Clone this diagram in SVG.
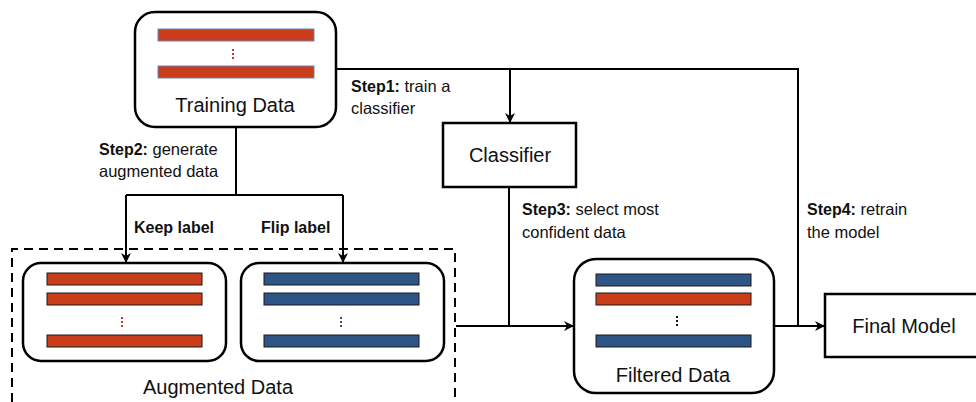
<svg xmlns="http://www.w3.org/2000/svg" width="976" height="402" viewBox="0 0 976 402">
  <style>
    .box { fill: #fff; stroke: #000; stroke-width: 2.5; }
    .line { fill: none; stroke: #000; stroke-width: 2; }
    .dash { fill: none; stroke: #000; stroke-width: 2; stroke-dasharray: 9 6; }
    .red { fill: #C93D1B; stroke: #1a1a1a; stroke-width: 1; }
    .redt { fill: #C93D1B; stroke: #6d86b8; stroke-width: 1; }
    .blue { fill: #2F5486; stroke: #1a1a1a; stroke-width: 1; }
    .title { font-family: "Liberation Sans", Arial, sans-serif; font-size: 20px; fill: #111; text-anchor: middle; }
    .lbl { font-family: "Liberation Sans", Arial, sans-serif; font-size: 16.5px; fill: #111; }
    .b { font-weight: bold; font-size: 16px; }
  </style>
  <defs>
    <marker id="arrow" viewBox="0 0 10 10" refX="9" refY="5" markerWidth="10" markerHeight="10" markerUnits="userSpaceOnUse" orient="auto">
      <path d="M0,0 L10,5 L0,10 L3,5 Z" fill="#000"/>
    </marker>
  </defs>

  <!-- connectors -->
  <g id="connectors">
    <!-- step 1: training data to classifier and on to the final model -->
    <path class="line" d="M336,69 H798 V326"/>
    <path class="line" d="M510,69 V122" marker-end="url(#arrow)"/>
    <!-- step 2: split into kept / flipped labels -->
    <path class="line" d="M236,127 V195"/>
    <path class="line" d="M126,195 H343"/>
    <path class="line" d="M126,195 V262" marker-end="url(#arrow)"/>
    <path class="line" d="M343,195 V262" marker-end="url(#arrow)"/>
    <!-- step 3: augmented data through classifier to filtered data -->
    <path class="line" d="M509,187 V326"/>
    <path class="line" d="M456,326 H573" marker-end="url(#arrow)"/>
    <!-- step 4: filtered data to final model -->
    <path class="line" d="M775,326 H824" marker-end="url(#arrow)"/>
  </g>

  <!-- Training Data -->
  <g id="training-data">
    <rect class="box" x="135" y="12" width="201" height="115" rx="20"/>
    <rect class="redt" x="158" y="29" width="156" height="12"/>
    <rect x="232" y="49" width="2" height="2" fill="#C93D1B"/>
    <rect x="232" y="53" width="2" height="2" fill="#C93D1B"/>
    <rect x="232" y="57" width="2" height="2" fill="#C93D1B"/>
    <rect class="redt" x="158" y="66" width="156" height="12"/>
    <text class="title" x="235" y="112">Training Data</text>
  </g>

  <!-- Classifier -->
  <g id="classifier">
    <rect class="box" x="443" y="123" width="133" height="64"/>
    <text class="title" x="510" y="162">Classifier</text>
  </g>

  <!-- Augmented Data group -->
  <g id="augmented-data">
    <path class="dash" d="M12,402 V249 H455 V402"/>
    <text class="title" x="218" y="394">Augmented Data</text>
  </g>

  <g id="keep-label-data">
    <rect class="box" x="23" y="263" width="203" height="98" rx="18"/>
    <rect class="red" x="47" y="273" width="155" height="12"/>
    <rect class="red" x="47" y="293" width="155" height="12"/>
    <rect x="121" y="317" width="2" height="2" fill="#C93D1B"/>
    <rect x="121" y="321" width="2" height="2" fill="#C93D1B"/>
    <rect x="121" y="325" width="2" height="2" fill="#C93D1B"/>
    <rect class="red" x="47" y="335" width="155" height="12"/>
  </g>

  <g id="flip-label-data">
    <rect class="box" x="241" y="263" width="203" height="98" rx="18"/>
    <rect class="blue" x="264" y="273" width="155" height="12"/>
    <rect class="blue" x="264" y="293" width="155" height="12"/>
    <rect x="340" y="317" width="2" height="2" fill="#2F5486"/>
    <rect x="340" y="321" width="2" height="2" fill="#2F5486"/>
    <rect x="340" y="325" width="2" height="2" fill="#2F5486"/>
    <rect class="blue" x="264" y="335" width="155" height="12"/>
  </g>

  <!-- Filtered Data -->
  <g id="filtered-data">
    <rect class="box" x="574" y="259" width="200" height="134" rx="22"/>
    <rect class="blue" x="596" y="274" width="155" height="12"/>
    <rect class="red" x="596" y="293" width="155" height="12"/>
    <rect x="676" y="316" width="2" height="2" fill="#111"/>
    <rect x="676" y="320" width="2" height="2" fill="#111"/>
    <rect x="676" y="324" width="2" height="2" fill="#111"/>
    <rect class="blue" x="596" y="335" width="155" height="12"/>
    <text class="title" x="673" y="382">Filtered Data</text>
  </g>

  <!-- Final Model -->
  <g id="final-model">
    <rect class="box" x="825" y="294" width="160" height="63"/>
    <text class="title" x="904" y="333">Final Model</text>
  </g>

  <!-- step labels -->
  <g id="labels">
    <text class="lbl" x="351" y="92"><tspan class="b">Step1:</tspan> train a</text>
    <text class="lbl" x="351" y="114">classifier</text>
    <text class="lbl" x="99" y="155"><tspan class="b">Step2:</tspan> generate</text>
    <text class="lbl" x="99" y="177">augmented data</text>
    <text class="lbl b" x="134" y="233">Keep label</text>
    <text class="lbl b" x="261" y="233">Flip label</text>
    <text class="lbl" x="522" y="215"><tspan class="b">Step3:</tspan> select most</text>
    <text class="lbl" x="522" y="238">confident data</text>
    <text class="lbl" x="807" y="215"><tspan class="b">Step4:</tspan> retrain</text>
    <text class="lbl" x="807" y="238">the model</text>
  </g>
</svg>
